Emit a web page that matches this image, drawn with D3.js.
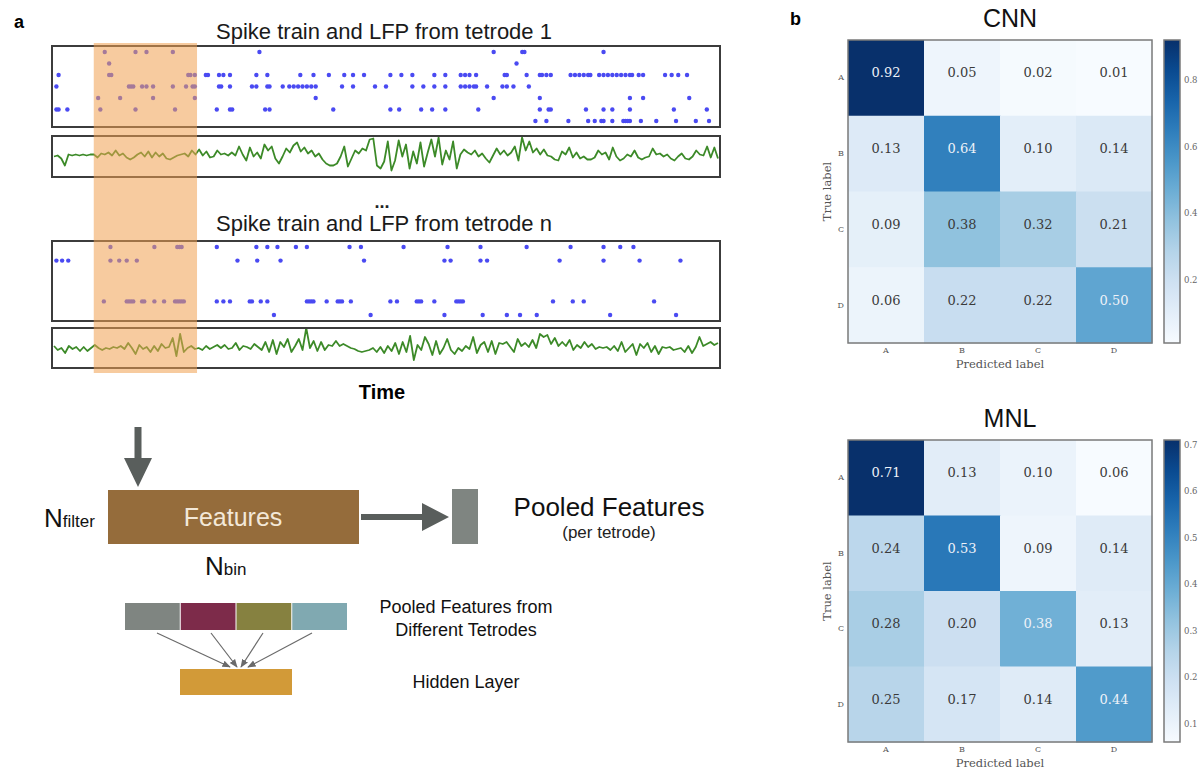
<!DOCTYPE html>
<html>
<head>
<meta charset="utf-8">
<script src="https://cdn.jsdelivr.net/npm/d3@7"></script>
<style>
  body { margin: 0; background: #fff; }
  svg { display: block; }
</style>
</head>
<body>
<div id="chart"></div>
<script>
// ---- data ----
// spike times for each channel row (time units), tetrode 1
var spikesT1 = [
  [145, 215, 240, 300, 497, 1030, 1095, 1100, 1280],
  [155, 1082],
  [40, 155, 160, 335, 340, 350, 375, 380, 405, 415, 430, 490, 515, 590, 620, 655, 690, 710, 735, 795, 820, 845, 895, 920, 955, 965, 975, 990, 1055, 1060, 1105, 1135, 1140, 1150, 1160, 1205, 1215, 1225, 1235, 1245, 1250, 1270, 1280, 1290, 1300, 1310, 1320, 1330, 1340, 1345, 1360, 1370, 1420, 1435, 1450, 1470],
  [35, 200, 205, 210, 230, 240, 255, 300, 330, 345, 350, 405, 410, 430, 480, 490, 515, 520, 550, 565, 575, 585, 595, 605, 615, 625, 685, 710, 760, 785, 845, 870, 895, 920, 955, 965, 975, 985, 990, 1015, 1050, 1060, 1075, 1110],
  [130, 180, 255, 350, 625, 1030, 1135, 1340, 1370, 1475],
  [35, 40, 60, 135, 215, 305, 400, 430, 435, 510, 520, 665, 795, 815, 865, 890, 920, 995, 1135, 1155, 1160, 1240, 1280, 1300, 1340, 1440, 1515],
  [1125, 1150, 1200, 1245, 1260, 1275, 1280, 1300, 1325, 1330, 1335, 1340, 1365, 1400, 1445, 1490, 1520]
];
// spike times, tetrode n (rows 3 and 4 silent)
var spikesTn = [
  [158, 258, 310, 315, 320, 400, 490, 515, 538, 580, 605, 702, 728, 825, 925, 1000, 1105, 1205, 1280, 1318, 1348],
  [35, 48, 62, 158, 178, 195, 218, 447, 492, 545, 735, 918, 932, 1000, 1015, 1180, 1280, 1362, 1455],
  [],
  [],
  [143, 195, 200, 205, 210, 230, 235, 258, 280, 305, 310, 315, 320, 325, 400, 415, 430, 475, 480, 500, 515, 605, 610, 615, 620, 650, 675, 680, 685, 705, 795, 810, 855, 860, 865, 895, 945, 950, 955, 960, 1165, 1210, 1235, 1395],
  [530, 750, 918, 1005, 1060, 1090, 1128, 1295, 1445]
];
var timeExtent = [25, 1545];
var windowExtent = [120, 355];

// LFP traces (normalised amplitude)
var lfpT1 = [0, 0.05, -0.1, -0.45, 0.1, 0.05, 0.1, 0.05, 0.1, 0.05, 0.1, 0.1, -0.05, 0.15,
  0.1, 0.2, 0.05, 0.3, 0.05, 0.15, -0.05, -0.15, -0.05, 0.1, 0.2, 0.0, 0.25, -0.05, 0.2, 0.0, 0.15, -0.1, -0.15, -0.05, 0.05, 0.1, 0.15, 0.0, 0.3, 0.1, 0.35, 0.05, 0.25, -0.05,
  0.0, 0.3, 0.1, 0.15, 0.05, 0.2, 0.05, 0.5, 0.1, -0.2, 0.45, 0.0, 0.2, -0.1, 0.6, 0.3, 0.5, -0.1, -0.35, 0.0, 0.4, 0.2, 0.55, 0.7, 0.25, 0.45, 0.15, 0.3, 0.0, 0.15, -0.15, -0.35, -0.45, -0.45, -0.35, 0.0, 0.5, -0.5, -0.1, 0.3, 0.15, 0.4, 0.3, 0.85, 0.9, -0.45, -0.6, -0.25, 0.75, -0.7, -0.2, 0.8, 0.0, 0.6, -0.6, 0.25, -0.35, 0.7, -0.5, 0.2, 0.85, 0.0, 0.95, -0.4, 0.3, -0.15, 0.75, -0.6, 0.1, 0.35, 0.2, 0.1, 0.3, 0.0, 0.15, -0.1, -0.3, 0.05, 0.4, 0.1, 0.3, 0.05, 0.2, 0.5, -0.2, 0.95, 0.3, 0.75, 0.2, 0.4, 0.1, 0.35, 0.05, 0.0, -0.15, -0.2, 0.25, 0.1, 0.45, -0.05, 0.2, -0.1, 0.0, -0.15, -0.15, -0.05, 0.3, 0.1, 0.2, -0.15, 0.45, 0.0, -0.2, -0.1, 0.1, 0.0, 0.3, -0.05, -0.15, -0.05, 0.0, 0.4, 0.1, 0.15, 0.0, 0.1, -0.1, -0.2, 0.0, 0.15, -0.1, -0.15, 0.0, 0.3, 0.1, 0.05, 0.5, -0.05, 0.45, -0.1];
var lfpTn = [0.1, -0.1, 0.0, -0.25, 0.1, -0.05, 0.05, -0.15, 0.05, -0.15, 0.0, 0.15, 0.0, -0.1, 0.0,
  -0.05, 0.05, 0.0, 0.1, -0.05, 0.25, 0.0, -0.3, 0.15, -0.05, 0.05, -0.2, 0.1, -0.15, 0.2, 0.0, 0.05, 0.5, -0.4, 0.7, -0.2, 0.0, 0.1, -0.05, 0.0, -0.1, 0.1, -0.05, 0.05, 0.15,
  0.0, 0.15, -0.05, 0.0, 0.25, -0.1, 0.1, 0.05, -0.05, 0.2, 0.05, -0.1, 0.3, -0.2, 0.4, -0.3, 0.3, 0.05, 0.45, -0.2, 0.1, 0.45, -0.1, 1.0, 0.0, 0.35, -0.15, 0.3, -0.1, 0.15, 0.1, 0.35, 0.1, 0.2, 0.1, 0.0, -0.05, -0.15, -0.2, -0.15, -0.1, 0.0, -0.2, 0.05, -0.25, 0.1, -0.15, 0.25, -0.3, 0.3, -0.2, 0.6, -0.6, 0.15, -0.1, 0.55, 0.2, -0.35, 0.35, -0.3, 0.0, 0.45, -0.1, -0.3, 0.0, -0.15, 0.1, -0.05, 0.55, -0.25, 0.15, 0.3, -0.2, 0.35, -0.3, 0.25, 0.2, 0.3, 0.05, -0.2, 0.45, 0.1, 0.25, 0.05, 0.4, 0.0, 0.7, 0.55, 0.65, 0.2, 0.5, 0.1, 0.3, 0.1, 0.4, -0.1, 0.15, 0.0, 0.3, 0.05, 0.2, -0.05, 0.05, 0.0, 0.05, -0.1, 0.1, -0.15, 0.3, -0.2, 0.0, 0.2, -0.35, 0.2, 0.0, 0.25, -0.2, 0.1, -0.3, 0.05, 0.0, 0.05, -0.1, -0.05, 0.0, -0.2, 0.1, -0.25, 0.05, 0.55, 0.1, 0.2, 0.3, 0.15, 0.25];

// confusion matrices (rows = true label, cols = predicted label)
var classLabels = ["A", "B", "C", "D"];
var cnnMatrix = [
  [0.92, 0.05, 0.02, 0.01],
  [0.13, 0.64, 0.10, 0.14],
  [0.09, 0.38, 0.32, 0.21],
  [0.06, 0.22, 0.22, 0.50]
];
var mnlMatrix = [
  [0.71, 0.13, 0.10, 0.06],
  [0.24, 0.53, 0.09, 0.14],
  [0.28, 0.20, 0.38, 0.13],
  [0.25, 0.17, 0.14, 0.44]
];
var cnnTicks = [0.2, 0.4, 0.6, 0.8];
var mnlTicks = [0.1, 0.2, 0.3, 0.4, 0.5, 0.6, 0.7];

// schematic colours for pooled features of different tetrodes
var pooledColors = ["#7f8581", "#7d2b4a", "#868140", "#80a9b1"];

// ---- svg ----
var svg = d3.select("#chart").append("svg")
  .attr("width", 1201).attr("height", 771)
  .style("font-family", "'Liberation Sans', Arial, sans-serif");

var defs = svg.append("defs");
defs.append("marker")
  .attr("id", "small-arrow")
  .attr("viewBox", "0 0 10 10")
  .attr("refX", 9).attr("refY", 5)
  .attr("markerWidth", 7).attr("markerHeight", 7)
  .attr("orient", "auto")
  .append("path").attr("d", "M0,1 L10,5 L0,9 z").attr("fill", "#6a6a6a");

// panel letters
svg.append("text").attr("x", 14).attr("y", 28).attr("font-size", 18).attr("font-weight", "bold").text("a");
svg.append("text").attr("x", 790).attr("y", 25).attr("font-size", 18).attr("font-weight", "bold").text("b");

// ---- panel a: spikes and LFP ----
var xTime = d3.scaleLinear().domain(timeExtent).range([52, 720]);

function drawTetrode(title, titleY, spikeBox, lfpBox, spikes, lfp) {
  svg.append("text")
    .attr("x", 384).attr("y", titleY)
    .attr("text-anchor", "middle")
    .attr("font-size", 22)
    .attr("fill", "#1a1a1a")
    .text(title);

  var yRow = d3.scalePoint()
    .domain(d3.range(spikes.length))
    .range([spikeBox[0] + 6, spikeBox[1] - 6]);

  var g = svg.append("g");
  spikes.forEach(function (row, i) {
    g.selectAll(null)
      .data(row)
      .enter()
      .append("circle")
      .attr("cx", function (d) { return xTime(d); })
      .attr("cy", yRow(i))
      .attr("r", 2.2)
      .attr("fill", "#4a4af2");
  });

  svg.append("rect")
    .attr("x", 52).attr("y", spikeBox[0])
    .attr("width", 668).attr("height", spikeBox[1] - spikeBox[0])
    .attr("fill", "none").attr("stroke", "#3c3c3c").attr("stroke-width", 2);

  var xIdx = d3.scaleLinear().domain([0, lfp.length - 1]).range([54, 718]);
  var mid = (lfpBox[0] + lfpBox[1]) / 2;
  var yLfp = d3.scaleLinear().domain([-1, 1]).range([mid + 20, mid - 20]);
  var line = d3.line()
    .x(function (d, i) { return xIdx(i); })
    .y(function (d) { return yLfp(d); });

  svg.append("path")
    .datum(lfp)
    .attr("d", line)
    .attr("fill", "none")
    .attr("stroke", "#3c8a28")
    .attr("stroke-width", 1.8)
    .attr("stroke-linejoin", "round");

  svg.append("rect")
    .attr("x", 52).attr("y", lfpBox[0])
    .attr("width", 668).attr("height", lfpBox[1] - lfpBox[0])
    .attr("fill", "none").attr("stroke", "#3c3c3c").attr("stroke-width", 2);
}

drawTetrode("Spike train and LFP from tetrode 1", 39, [46, 127], [136, 177], spikesT1, lfpT1);
drawTetrode("Spike train and LFP from tetrode n", 231, [241, 321], [328, 368], spikesTn, lfpTn);

svg.append("text").attr("x", 382).attr("y", 208)
  .attr("text-anchor", "middle").attr("font-size", 18).attr("font-weight", "bold")
  .attr("fill", "#222").text("...");

// highlighted time window
svg.append("rect")
  .attr("x", xTime(windowExtent[0]))
  .attr("y", 43)
  .attr("width", xTime(windowExtent[1]) - xTime(windowExtent[0]))
  .attr("height", 330)
  .attr("fill", "#f0a050")
  .attr("opacity", 0.55);

svg.append("text").attr("x", 382).attr("y", 399)
  .attr("text-anchor", "middle").attr("font-size", 20).attr("font-weight", "bold")
  .text("Time");

// ---- schematic ----
var arrowColor = "#595e5c";
svg.append("path")
  .attr("d", "M134.5,427 L141.5,427 L141.5,458 L152,458 L138,487 L124,458 L134.5,458 Z")
  .attr("fill", arrowColor);

svg.append("rect").attr("x", 108).attr("y", 490).attr("width", 251).attr("height", 54)
  .attr("fill", "#956c3b");
svg.append("text").attr("x", 233).attr("y", 526).attr("text-anchor", "middle")
  .attr("font-size", 25).attr("fill", "#f3e8d8").text("Features");

var nf = svg.append("text").attr("x", 44).attr("y", 527).attr("fill", "#111");
nf.append("tspan").attr("font-size", 26).text("N");
nf.append("tspan").attr("font-size", 17).text("filter");

var nb = svg.append("text").attr("x", 205).attr("y", 575).attr("fill", "#111");
nb.append("tspan").attr("font-size", 26).text("N");
nb.append("tspan").attr("font-size", 17).text("bin");

svg.append("path")
  .attr("d", "M361,514 L422,514 L422,503 L449,517 L422,531 L422,520 L361,520 Z")
  .attr("fill", arrowColor);

svg.append("rect").attr("x", 452).attr("y", 489).attr("width", 26).attr("height", 55)
  .attr("fill", "#7f8581");

svg.append("text").attr("x", 609).attr("y", 516).attr("text-anchor", "middle")
  .attr("font-size", 26).attr("fill", "#111").text("Pooled Features");
svg.append("text").attr("x", 609).attr("y", 538).attr("text-anchor", "middle")
  .attr("font-size", 17).attr("fill", "#222").text("(per tetrode)");

var xSeg = d3.scaleBand().domain(d3.range(pooledColors.length)).range([125, 348]);
svg.selectAll(".seg")
  .data(pooledColors)
  .enter()
  .append("rect")
  .attr("class", "seg")
  .attr("x", function (d, i) { return xSeg(i); })
  .attr("y", 603)
  .attr("width", xSeg.bandwidth() - 1)
  .attr("height", 27)
  .attr("fill", function (d) { return d; });

var arrowEnds = [230, 237, 241, 248];
svg.selectAll(".conn")
  .data(pooledColors)
  .enter()
  .append("line")
  .attr("class", "conn")
  .attr("x1", function (d, i) { return [157, 211, 263, 312][i]; })
  .attr("y1", 633)
  .attr("x2", function (d, i) { return arrowEnds[i]; })
  .attr("y2", 667)
  .attr("stroke", "#6a6a6a")
  .attr("stroke-width", 1.2)
  .attr("marker-end", "url(#small-arrow)");

svg.append("rect").attr("x", 180).attr("y", 669).attr("width", 112).attr("height", 26)
  .attr("fill", "#d29a38");

svg.append("text").attr("x", 466).attr("y", 613).attr("text-anchor", "middle")
  .attr("font-size", 18).attr("fill", "#111").text("Pooled Features from");
svg.append("text").attr("x", 466).attr("y", 636).attr("text-anchor", "middle")
  .attr("font-size", 18).attr("fill", "#111").text("Different Tetrodes");
svg.append("text").attr("x", 466).attr("y", 688).attr("text-anchor", "middle")
  .attr("font-size", 18).attr("fill", "#111").text("Hidden Layer");

// ---- panel b: confusion matrices ----
var serif = "'DejaVu Serif', serif";

function drawMatrix(name, matrix, ticks, top, bottom, id) {
  var flat = d3.merge(matrix);
  var vmin = d3.min(flat), vmax = d3.max(flat);
  var color = d3.scaleSequential(d3.interpolateBlues).domain([vmin, vmax]);

  var xBand = d3.scaleBand().domain(classLabels).range([848, 1152]);
  var yBand = d3.scaleBand().domain(classLabels).range([top, bottom]);

  svg.append("text").attr("x", 1010).attr("y", top - 13)
    .attr("text-anchor", "middle").attr("font-size", 25).attr("fill", "#111").text(name);

  var cells = [];
  matrix.forEach(function (row, i) {
    row.forEach(function (v, j) {
      cells.push({ r: classLabels[i], c: classLabels[j], v: v });
    });
  });

  var g = svg.append("g");
  g.selectAll("rect")
    .data(cells)
    .enter()
    .append("rect")
    .attr("x", function (d) { return xBand(d.c); })
    .attr("y", function (d) { return yBand(d.r); })
    .attr("width", xBand.bandwidth() + 0.5)
    .attr("height", yBand.bandwidth() + 0.5)
    .attr("fill", function (d) { return color(d.v); });

  g.selectAll("text")
    .data(cells)
    .enter()
    .append("text")
    .attr("x", function (d) { return xBand(d.c) + xBand.bandwidth() / 2; })
    .attr("y", function (d) { return yBand(d.r) + yBand.bandwidth() / 2 - 5; })
    .attr("dy", "0.35em")
    .attr("text-anchor", "middle")
    .attr("font-family", serif)
    .attr("font-size", 13)
    .attr("fill", function (d) { return d.v > vmax / 2 ? "#eef2f8" : "#3a3a3a"; })
    .text(function (d) { return d3.format(".2f")(d.v); });

  svg.append("rect")
    .attr("x", 848).attr("y", top).attr("width", 304).attr("height", bottom - top)
    .attr("fill", "none").attr("stroke", "#7a7a7a").attr("stroke-width", 1.5);

  // row / column tick labels
  var yAxis = svg.append("g").attr("transform", "translate(848,0)")
    .call(d3.axisLeft(yBand).tickSize(0).tickPadding(4));
  var xAxis = svg.append("g").attr("transform", "translate(0," + bottom + ")")
    .call(d3.axisBottom(xBand).tickSize(0).tickPadding(4));
  [xAxis, yAxis].forEach(function (ax) {
    ax.select(".domain").remove();
    ax.selectAll("text").attr("font-family", serif).attr("font-size", 8).attr("fill", "#555");
  });

  svg.append("text").attr("x", 1000).attr("y", bottom + 25)
    .attr("text-anchor", "middle").attr("font-family", serif).attr("font-size", 11.5)
    .attr("fill", "#555").text("Predicted label");
  svg.append("text")
    .attr("transform", "translate(831," + ((top + bottom) / 2) + ") rotate(-90)")
    .attr("text-anchor", "middle").attr("font-family", serif).attr("font-size", 11.5)
    .attr("fill", "#555").text("True label");

  // colorbar
  var grad = defs.append("linearGradient").attr("id", id)
    .attr("x1", 0).attr("y1", 1).attr("x2", 0).attr("y2", 0);
  d3.range(0, 1.0001, 0.1).forEach(function (t) {
    grad.append("stop").attr("offset", t).attr("stop-color", d3.interpolateBlues(t));
  });
  var yBar = d3.scaleLinear().domain([vmin, vmax]).range([bottom, top]);
  svg.append("rect").attr("x", 1164).attr("y", top).attr("width", 16).attr("height", bottom - top)
    .attr("fill", "url(#" + id + ")").attr("stroke", "#7a7a7a").attr("stroke-width", 1.5);
  var cbAxis = svg.append("g").attr("transform", "translate(1180,0)")
    .call(d3.axisRight(yBar).tickValues(ticks).tickSize(0).tickPadding(4).tickFormat(d3.format(".1f")));
  cbAxis.select(".domain").remove();
  cbAxis.selectAll("text").attr("font-family", serif).attr("font-size", 8.5).attr("fill", "#666");
}

drawMatrix("CNN", cnnMatrix, cnnTicks, 40, 343, "cb-cnn");
drawMatrix("MNL", mnlMatrix, mnlTicks, 440, 742, "cb-mnl");
</script>
</body>
</html>
